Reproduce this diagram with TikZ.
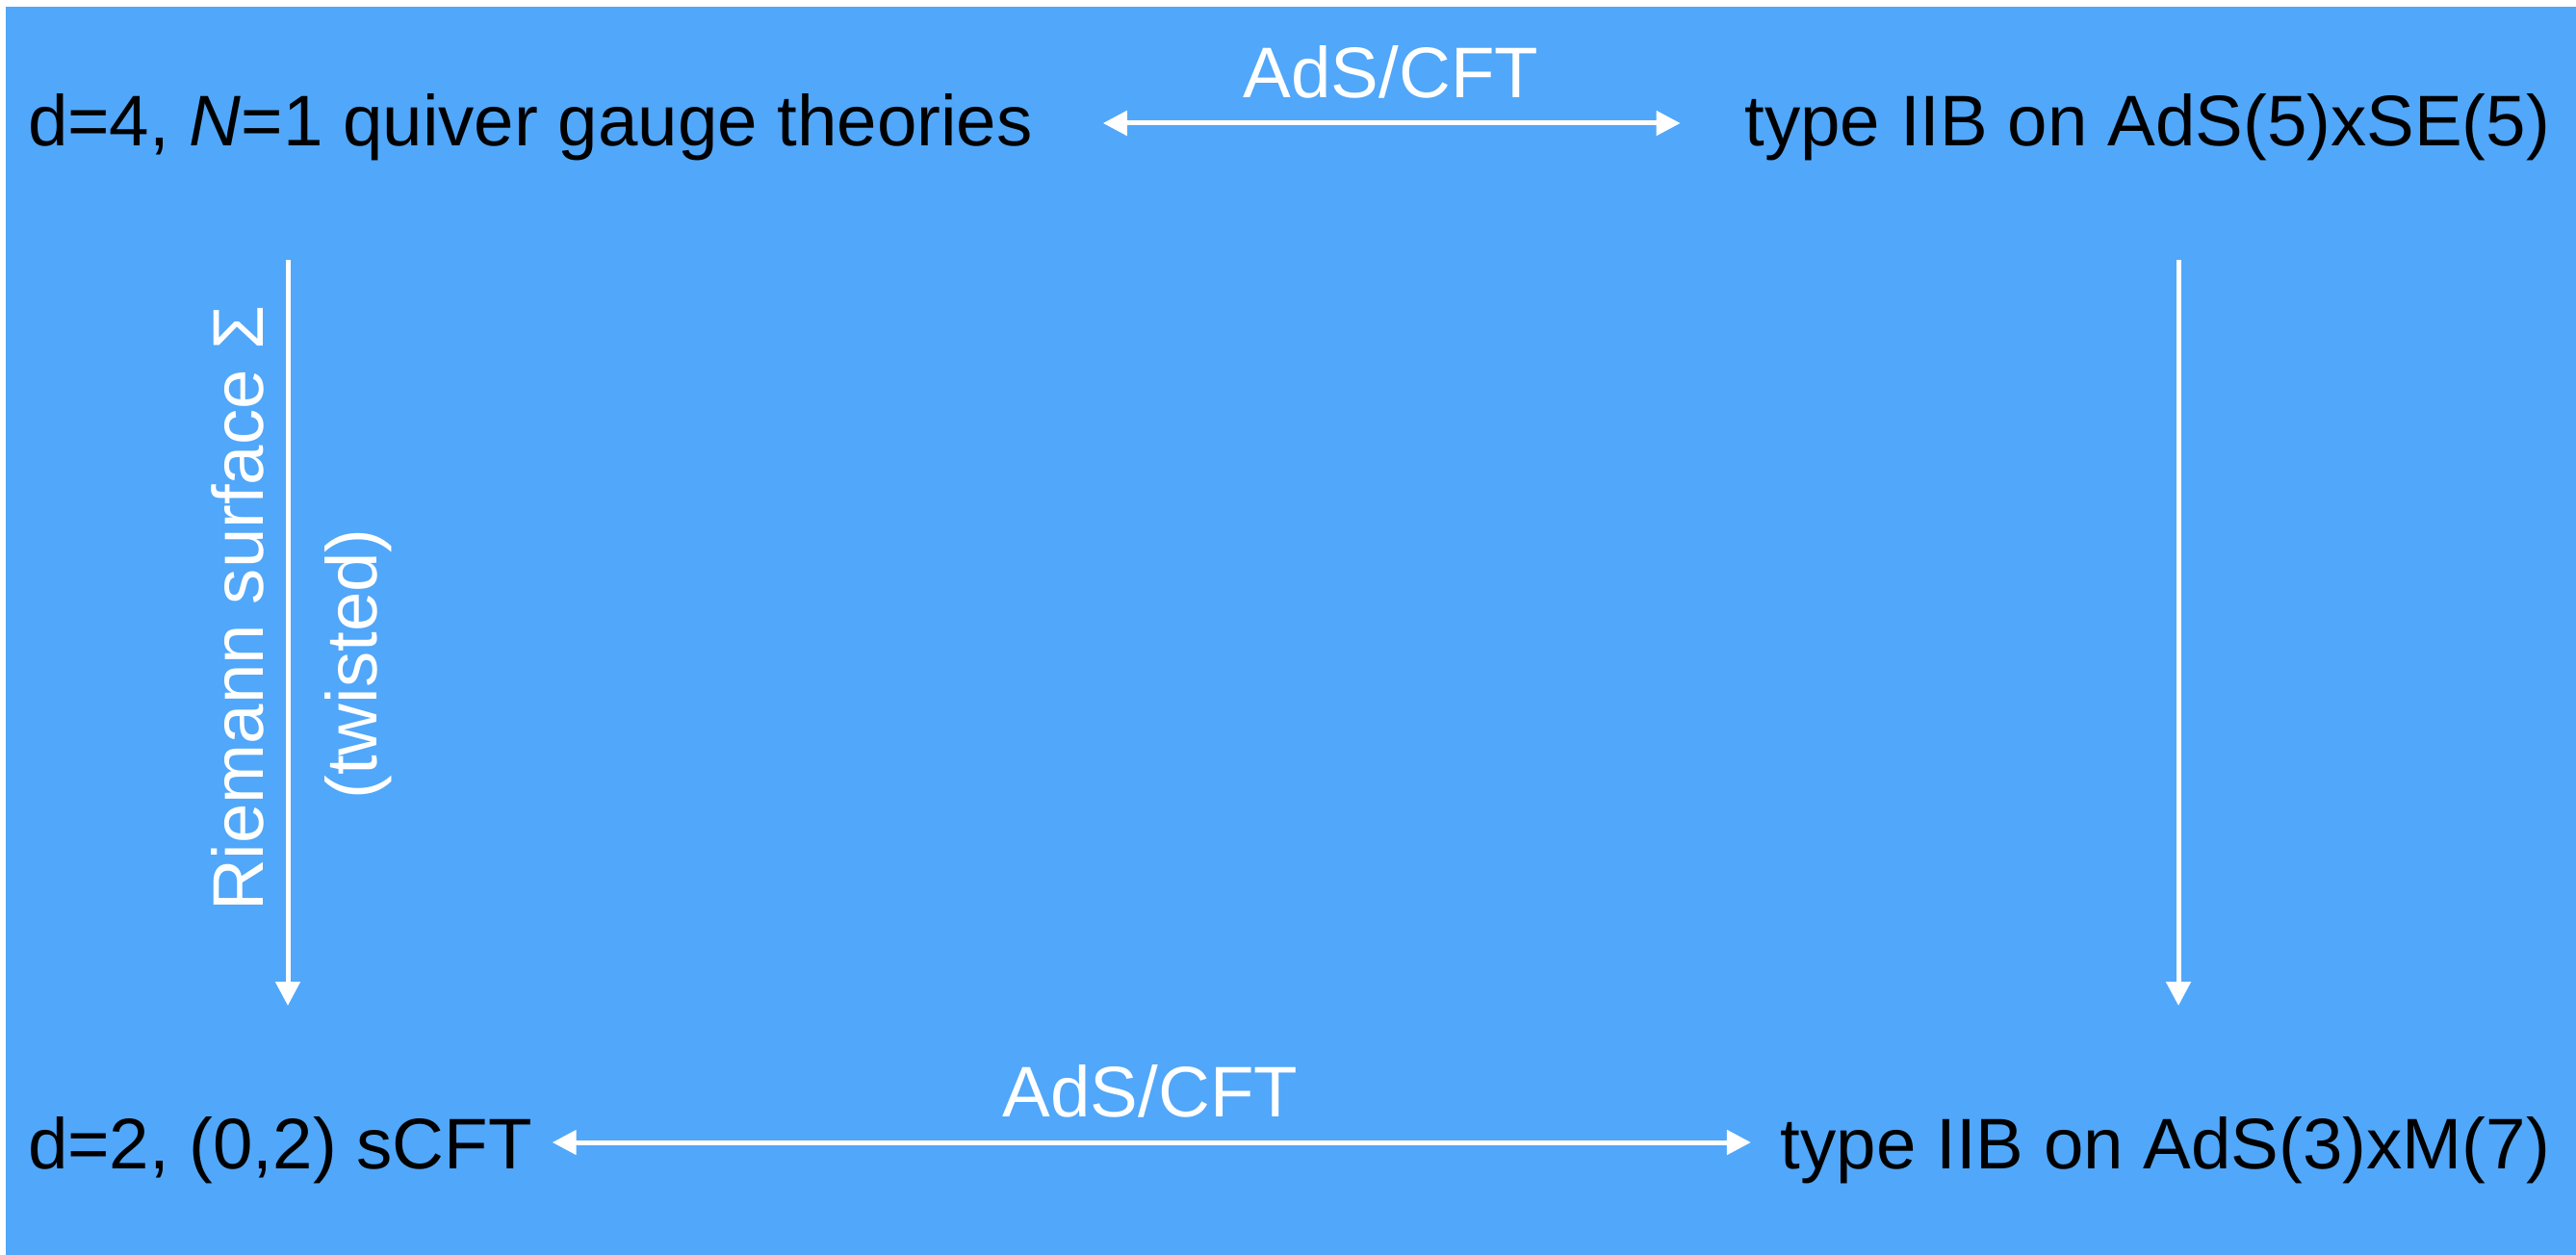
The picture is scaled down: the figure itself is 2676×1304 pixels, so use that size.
\documentclass[tikz,border=0pt]{standalone}
\usepackage{fontspec}
\setmainfont{Liberation Sans}
\usetikzlibrary{arrows.meta}
\definecolor{bgblue}{RGB}{81,167,249}
\begin{document}
\begin{tikzpicture}[x=0.5pt,y=-0.5pt,
  every node/.style={inner sep=0pt,outer sep=0pt,font=\fontsize{37.25pt}{44pt}\selectfont},
  blacktext/.style={text=black},
  whitetext/.style={text=white},
  arr/.style={draw=white,line width=2.5pt,-{Triangle[length=12.5pt,width=12.5pt]}},
  biarr/.style={draw=white,line width=2.5pt,{Triangle[length=12.5pt,width=12.5pt]}-{Triangle[length=12.5pt,width=12.5pt]}}]
\useasboundingbox (0,0) rectangle (2676,1304);
\fill[bgblue] (6,7) rectangle (2676,1304);

\node[blacktext,anchor=base west] (tl) at (29,152) {d=4, \textit{N}=1 quiver gauge theories};
\node[blacktext,anchor=base east] (tr) at (2649,152) {type IIB on AdS(5)xSE(5)};
\node[blacktext,anchor=base west] (bl) at (29,1214) {d=2, (0,2) sCFT};
\node[blacktext,anchor=base east] (br) at (2649,1214) {type IIB on AdS(3)xM(7)};

\node[whitetext,anchor=base] (topads) at (1445,102) {AdS/CFT};
\node[whitetext,anchor=base] (botads) at (1195,1160) {AdS/CFT};
\node[whitetext,anchor=base,rotate=90] (riemann) at (273,632) {Riemann surface Σ};
\node[whitetext,anchor=base,rotate=90] (twisted) at (391,690) {(twisted)};

\draw[biarr] ([shift={(73,-24)}]tl.base east) -- ([shift={(-67,-24)}]tr.base west);
\draw[biarr] ([shift={(21,-27)}]bl.base east) -- ([shift={(-31,-27)}]br.base west);
\draw[arr] ([shift={(270,118)}]tl.base west) -- ([shift={(270,-169)}]bl.base west);
\draw[arr] ([shift={(-386,118)}]tr.base east) -- ([shift={(-386,-169)}]br.base east);
\end{tikzpicture}
\end{document}
